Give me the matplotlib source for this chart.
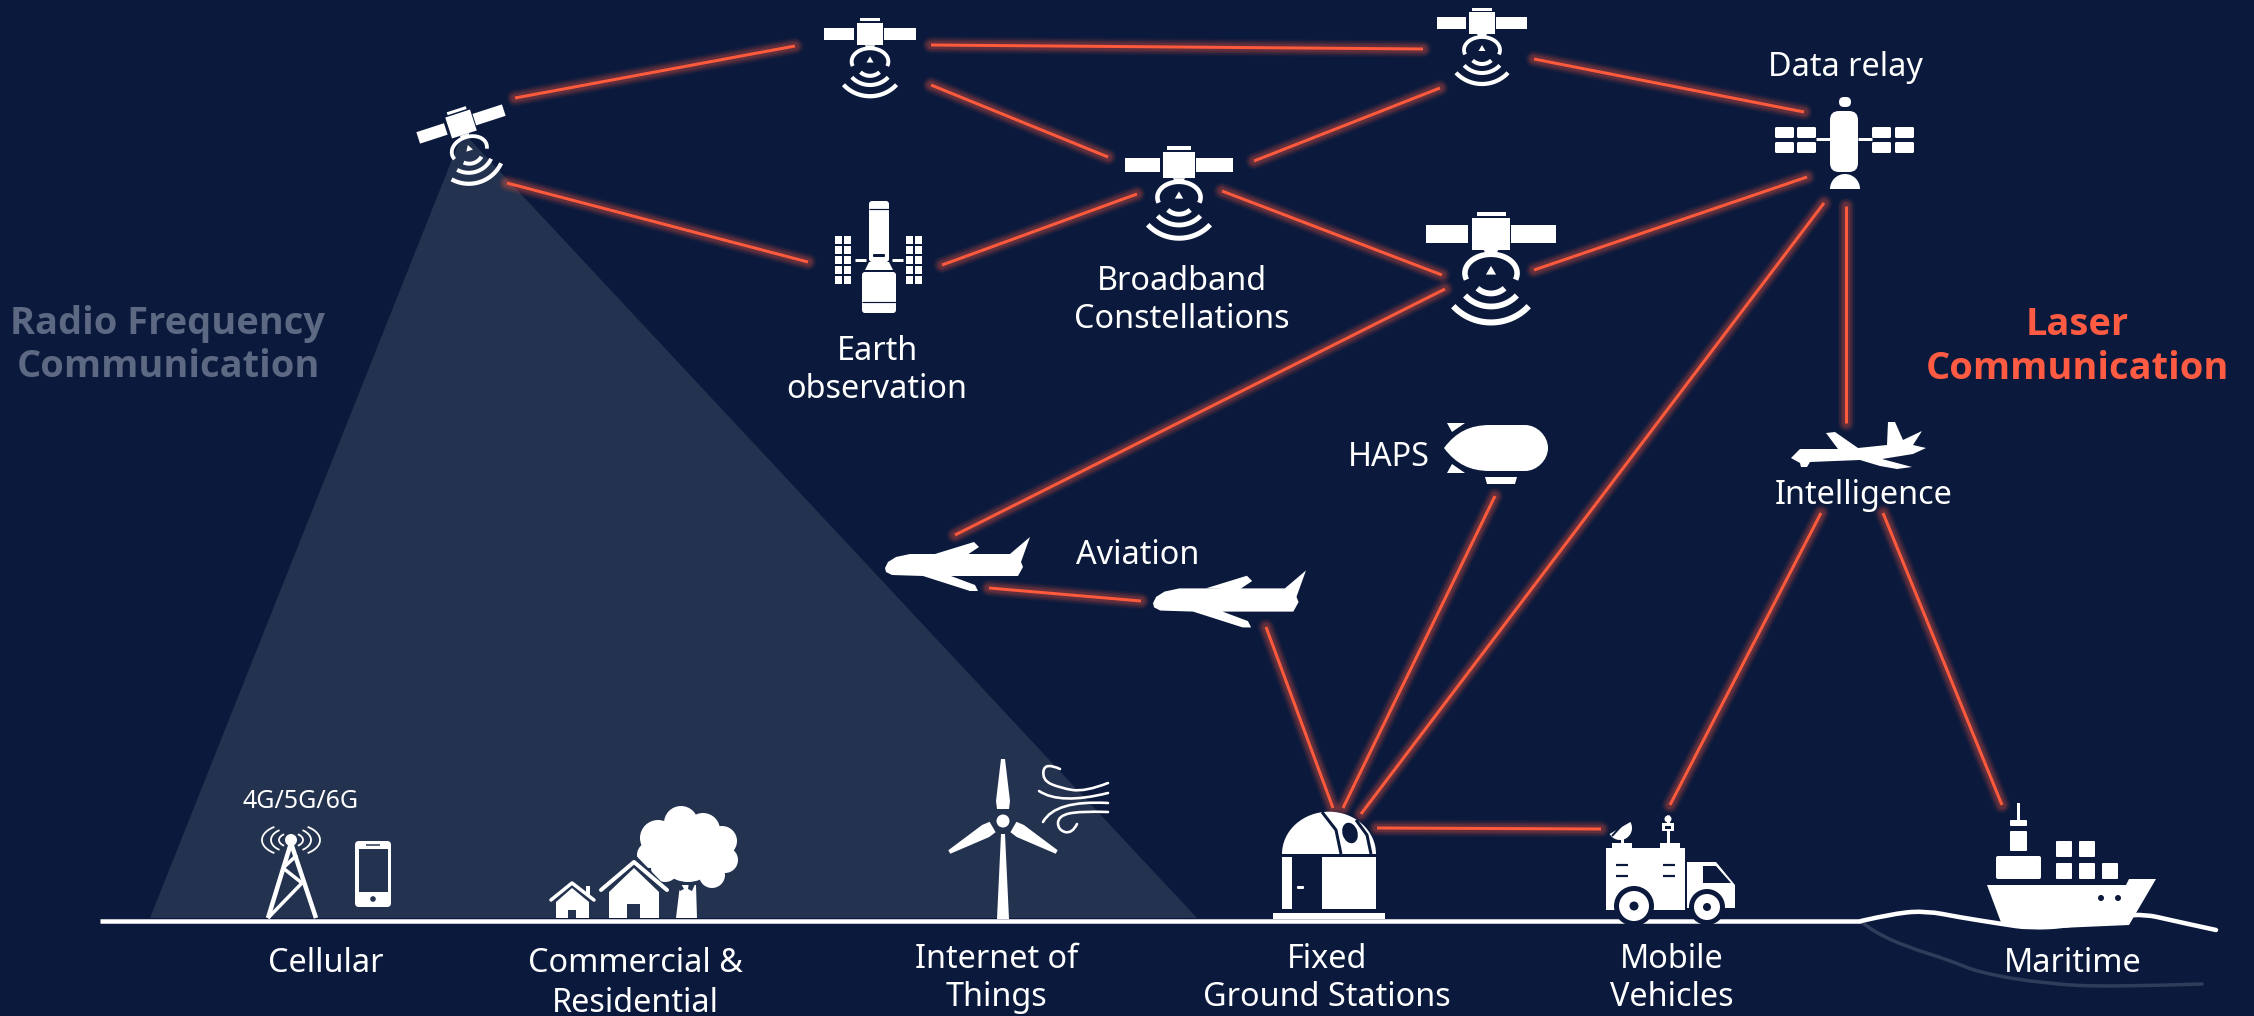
import numpy as np
import matplotlib
matplotlib.use('Agg')
import matplotlib.pyplot as plt
from matplotlib.patches import Polygon, Circle, Ellipse, Rectangle, FancyBboxPatch, PathPatch, Wedge
from matplotlib.path import Path
from matplotlib.transforms import Affine2D

plt.rcParams['font.family'] = ['Noto Sans', 'DejaVu Sans']

BG = '#0b1a3c'
BEAM = '#23324f'
WHITE = '#ffffff'
LASER = '#ff5a3c'
RF_GREY = '#5d6882'
SHADOW = '#2e3d5a'

# laser links, x0 y0 x1 y1 in image pixels
link_x0 = [515, 507, 931, 931, 942, 1254, 1222, 1534, 1534, 1445, 1824, 1846, 1495, 989, 1266, 1377, 1821, 1883]
link_y0 = [98, 183, 45, 85, 265, 161, 191, 59, 270, 289, 203, 206, 496, 588, 627, 828, 513, 513]
link_x1 = [795, 808, 1423, 1108, 1137, 1440, 1442, 1804, 1807, 955, 1361, 1846, 1343, 1141, 1333, 1601, 1670, 2002]
link_y1 = [46, 262, 49, 157, 194, 88, 275, 112, 177, 535, 814, 423, 808, 601, 808, 829, 805, 805]

# satellites: x, y, scale, tilt
sat_x = [461, 870, 1482, 1179, 1491]
sat_y = [124, 34, 23, 165, 234]
sat_scale = [1.0, 1.02, 1.0, 1.2, 1.45]
sat_tilt = [-18, 0, 0, 0, 0]

labels = ['Data relay', 'Broadband', 'Constellations', 'Earth', 'observation', 'HAPS', 'Aviation',
          'Intelligence', 'Cellular', 'Commercial &', 'Residential', 'Internet of', 'Things',
          'Fixed', 'Ground Stations', 'Mobile', 'Vehicles', 'Maritime']
label_x = [1845, 1182, 1182, 877, 877, 1389, 1138, 1864, 326, 635, 635, 997, 997, 1327, 1327, 1672, 1672, 2073]
label_y = [68, 282, 319, 352, 390, 457, 556, 495, 964, 964, 1003, 960, 998, 959, 998, 959, 998, 964]

fig = plt.figure(figsize=(22.54, 10.16), dpi=100, facecolor=BG)
ax = fig.add_axes([0, 0, 1, 1])
ax.set_xlim(0, 2254)
ax.set_ylim(1016, 0)
ax.axis('off')


def px(w):
    return w * 0.72


def poly(pts, color=WHITE, z=5, tr=None):
    ax.add_patch(Polygon(pts, closed=True, fc=color, ec='none', zorder=z, transform=tr or ax.transData))


def rect(x0, y0, x1, y1, color=WHITE, z=5, tr=None, r=0):
    if r > 0:
        ax.add_patch(FancyBboxPatch((x0 + r, y0 + r), x1 - x0 - 2 * r, y1 - y0 - 2 * r,
                                    boxstyle='round,pad=%g' % r, fc=color, ec='none', zorder=z,
                                    transform=tr or ax.transData))
    else:
        ax.add_patch(Rectangle((x0, y0), x1 - x0, y1 - y0, fc=color, ec='none', zorder=z,
                               transform=tr or ax.transData))


def line(pts, w, color=WHITE, z=5, tr=None, cap='butt'):
    pts = np.array(pts)
    ax.plot(pts[:, 0], pts[:, 1], color=color, lw=px(w), zorder=z, transform=tr or ax.transData,
            solid_capstyle=cap, solid_joinstyle='round')


def arc(cx, cy, rx, ry, t0, t1, w, color=WHITE, z=5, tr=None):
    t = np.radians(np.linspace(t0, t1, 40))
    line(np.column_stack([cx + rx * np.cos(t), cy + ry * np.sin(t)]), w, color, z, tr)


def smooth(pts, w, color=WHITE, z=5):
    # quadratic curve through the midpoints of the given points
    verts = [pts[0]]
    codes = [Path.MOVETO]
    for i in range(1, len(pts) - 1):
        mid = ((pts[i][0] + pts[i + 1][0]) / 2, (pts[i][1] + pts[i + 1][1]) / 2)
        verts += [pts[i], mid if i < len(pts) - 2 else pts[i + 1]]
        codes += [Path.CURVE3, Path.CURVE3]
    ax.add_patch(PathPatch(Path(verts, codes), fc='none', ec=color, lw=px(w), zorder=z, capstyle='round'))


def satellite(x, y, s, tilt):
    tr = Affine2D().scale(s).rotate_deg(tilt).translate(x, y) + ax.transData
    rect(-45, -6, -16, 6, tr=tr)
    rect(14, -6, 45, 6, tr=tr)
    rect(-13, -11, 13, 11, tr=tr)
    rect(-10, -15.5, 10, -12.5, tr=tr)
    poly([(-5, 11), (5, 11), (3, 15), (-3, 15)], tr=tr)
    arc(0, 27, 18, 13, 160, 380, 3.8 * s, tr=tr)
    poly([(0, 22), (-3.5, 28), (3.5, 28)], tr=tr)
    arc(0, 27, 14, 14, 48, 132, 4 * s, tr=tr)
    arc(0, 27, 24, 23, 42, 138, 4 * s, tr=tr)
    arc(0, 27, 35, 34, 42, 138, 4.2 * s, tr=tr)


# radio beam and ground line
poly([(463, 132), (150, 918), (1197, 918)], BEAM, z=1)
line([(100, 921), (1861, 921)], 4.5, z=4)
smooth([(1861, 921), (1896, 913), (1927, 911), (1958, 917), (2002, 924), (2029, 928), (2070, 926),
        (2135, 912), (2179, 922), (2216, 930)], 4.5, z=4)
smooth([(1863, 923), (1874, 932), (1907, 947), (1949, 960), (1980, 973), (2047, 984), (2113, 987),
        (2202, 984)], 3.5, SHADOW, z=2)

# laser links with a soft glow around them
for x0, y0, x1, y1 in zip(link_x0, link_y0, link_x1, link_y1):
    for w, a in [(17, 0.06), (14, 0.09), (11, 0.12), (8, 0.15)]:
        ax.plot([x0, x1], [y0, y1], color=LASER, lw=px(w), alpha=a, zorder=3, solid_capstyle='round')
    ax.plot([x0, x1], [y0, y1], color=LASER, lw=px(3), zorder=3.5, solid_capstyle='butt')

for x, y, s, t in zip(sat_x, sat_y, sat_scale, sat_tilt):
    satellite(x, y, s, t)

# earth observation telescope
rect(869, 201, 889, 262, r=3)
line([(869, 209), (889, 209)], 1.2, BG, z=6)
rect(873, 254, 885, 257, BG, z=6, r=1)
poly([(869, 262), (889, 262), (893, 270), (865, 270)])
rect(862, 272, 896, 313, r=3)
line([(862, 302), (896, 302)], 1.2, BG, z=6)
line([(855, 260), (866, 260)], 3)
line([(892, 260), (903, 260)], 3)
for px0 in [835, 844, 906, 915]:
    for py0 in [236, 246, 256, 266, 276]:
        rect(px0, py0, px0 + 7, py0 + 8)

# data relay station
rect(1830, 111, 1858, 172, r=9)
rect(1839, 97, 1851, 107, r=5)
ax.add_patch(Wedge((1845, 189), 15, 180, 360, fc=WHITE, ec='none', zorder=5))
line([(1816, 139), (1830, 139)], 3)
line([(1858, 139), (1872, 139)], 3)
for bx in [1775, 1797, 1872, 1895]:
    rect(bx, 127, bx + 19, 138, r=1.5)
    rect(bx, 142, bx + 19, 153, r=1.5)

# HAPS airship
haps = Path([(1444, 448), (1456, 432), (1470, 425), (1490, 425), (1525, 425), (1537, 425), (1548, 436),
             (1548, 448), (1548, 460), (1537, 471), (1525, 471), (1490, 471), (1470, 471), (1456, 464), (1444, 448)],
            [Path.MOVETO, Path.CURVE4, Path.CURVE4, Path.CURVE4, Path.LINETO, Path.CURVE4, Path.CURVE4, Path.CURVE4,
             Path.CURVE4, Path.CURVE4, Path.CURVE4, Path.LINETO, Path.CURVE4, Path.CURVE4, Path.CURVE4])
ax.add_patch(PathPatch(haps, fc=WHITE, ec='none', zorder=5))
poly([(1447, 423), (1465, 423), (1452, 432)])
poly([(1447, 473), (1465, 473), (1452, 464)])
poly([(1485, 477), (1517, 477), (1515, 484), (1487, 484)])

# airliners
for ox, oy, s in [(885, 565, 1.0), (1153, 600, 1.055)]:
    tr = Affine2D().scale(s).translate(ox, oy) + ax.transData
    poly([(0, 3), (3, -3), (11, -8), (25, -11), (125, -11), (145, -28), (136, -3), (138, 2), (133, 11), (66, 11),
          (90, 20), (93, 26), (85, 26), (38, 11), (7, 10), (1, 7)], tr=tr)
    poly([(50, -11), (89, -23), (94, -18), (82, -10)], tr=tr)

# drone
poly([(1791, 458), (1800, 449), (1838, 449), (1826, 433), (1835, 432), (1858, 448), (1887, 445), (1888, 422),
      (1895, 422), (1903, 440), (1922, 431), (1913, 445), (1926, 448), (1913, 454), (1882, 459), (1912, 467),
      (1897, 469), (1880, 466), (1860, 460), (1810, 462), (1807, 467), (1801, 467), (1800, 463)])

# cell tower and phone
ax.add_patch(Circle((291, 840), 6, fc=WHITE, ec='none', zorder=5))
line([(268, 918), (291, 843), (316, 918)], 4.5)
line([(268, 918), (302, 883)], 3.5)
line([(302, 883), (283, 868)], 3.5)
line([(283, 868), (297, 855)], 3.5)
for rx, ry in [(12, 7), (20, 12), (29, 16)]:
    arc(291, 840, rx, ry, 125, 235, 1.8)
    arc(291, 840, rx, ry, -55, 55, 1.8)
rect(355, 841, 391, 907, r=4)
rect(359, 849, 388, 892, BEAM, z=6)
line([(366, 845), (380, 845)], 1.5, BEAM, z=6)
ax.add_patch(Circle((373, 899), 2.8, fc=BEAM, ec='none', zorder=6))

# houses and tree
for cx, cy, r in [(688, 850, 32), (681, 823, 17), (703, 830, 17), (722, 841, 15), (725, 860, 13), (712, 875, 13),
                  (658, 838, 18), (650, 855, 13), (665, 868, 14)]:
    ax.add_patch(Circle((cx, cy), r, fc=WHITE, ec='none', zorder=5))
poly([(676, 918), (680, 885), (696, 885), (697, 918)])
poly([(674, 882), (680, 882), (684, 889), (680, 891)], BEAM, z=6)
poly([(689, 882), (696, 882), (692, 891), (688, 889)], BEAM, z=6)
line([(596, 896), (634, 860), (669, 896)], 9, BEAM, z=6)
poly([(634, 868), (659, 892), (659, 918), (609, 918), (609, 892)], z=6.1)
line([(601, 890), (634, 862), (667, 890)], 4, z=6.1, cap='round')
rect(627, 904, 640, 918, BEAM, z=6.2)
poly([(572, 888), (589, 902), (589, 918), (556, 918), (556, 902)])
line([(551, 900), (572, 883), (594, 900)], 3.5, cap='round')
rect(586, 886, 590, 895)
rect(568, 910, 576, 918, BEAM, z=6)

# wind turbine
poly([(997, 919), (1001, 834), (1005, 834), (1009, 919)])
ax.add_patch(Circle((1003, 821), 6.5, fc=WHITE, ec='none', zorder=5))
for ang in [0, 120, 240]:
    tr = Affine2D().rotate_deg(ang).translate(1003, 821) + ax.transData
    poly([(-6, -12), (6, -12), (7, -20), (2, -62), (-2, -62), (-7, -20)], tr=tr)
for crv in [[(1060, 769), (1045, 762), (1042, 780), (1060, 788), (1085, 792), (1108, 783)],
            [(1039, 791), (1060, 805), (1108, 793)],
            [(1043, 822), (1055, 800), (1108, 803)],
            [(1108, 812), (1080, 811), (1058, 816), (1058, 830), (1072, 834), (1077, 824)]]:
    smooth(crv, 2.6)

# ground station dome
rect(1273, 913, 1385, 919)
rect(1282, 857, 1292, 909)
rect(1322, 857, 1376, 909)
rect(1297, 886, 1304, 889, r=1)
ax.add_patch(Wedge((1329, 854), 47, 180, 360, fc=WHITE, ec='none', zorder=5, transform=Affine2D().scale(1, 0.9).translate(0, 85.4) + ax.transData))
line([(1322, 812), (1336, 830), (1341, 854)], 3, BG, z=6)
line([(1356, 820), (1367, 835), (1371, 854)], 3, BG, z=6)
ax.add_patch(Ellipse((1350, 833), 15, 21, angle=-18, fc=BG, ec='none', zorder=6))

# truck
rect(1606, 848, 1685, 895)
rect(1606, 895, 1685, 910)
poly([(1687, 862), (1716, 862), (1735, 885), (1735, 908), (1687, 908)])
poly([(1703, 866), (1716, 866), (1731, 883), (1703, 883)], BG, z=6)
ax.add_patch(Circle((1634, 906), 20, fc=BG, ec='none', zorder=6))
ax.add_patch(Circle((1634, 906), 15, fc=WHITE, ec='none', zorder=6.1))
ax.add_patch(Circle((1634, 906), 4.5, fc=BG, ec='none', zorder=6.2))
ax.add_patch(Circle((1707, 907), 18, fc=BG, ec='none', zorder=6))
ax.add_patch(Circle((1707, 907), 13, fc=WHITE, ec='none', zorder=6.1))
ax.add_patch(Circle((1707, 907), 4, fc=BG, ec='none', zorder=6.2))
for ly in [865, 876]:
    line([(1616, ly), (1628, ly)], 2.2, BG, z=6)
    line([(1663, ly), (1675, ly)], 2.2, BG, z=6)
rect(1612, 843, 1632, 849)
rect(1660, 843, 1680, 849)
line([(1622, 843), (1622, 832)], 3)
ax.add_patch(Wedge((1620, 828), 12, -30, 150, fc=WHITE, ec='none', zorder=5))
line([(1612, 836), (1625, 822)], 2, BG, z=6)
line([(1668, 843), (1668, 815)], 3)
rect(1662, 823, 1674, 831)
rect(1665, 826, 1671, 829, BG, z=6)
ax.add_patch(Circle((1668, 819), 3.5, fc=WHITE, ec='none', zorder=5))

# ship
poly([(1987, 885), (2126, 885), (2129, 879), (2156, 879), (2129, 925), (2060, 928), (2002, 925)], z=5)
rect(1996, 856, 2041, 879, r=2)
rect(2010, 831, 2027, 851, r=1)
rect(2010, 820, 2027, 826, r=1)
rect(2017, 803, 2020, 820)
for cx0 in [2056, 2079, 2102]:
    rect(cx0, 863, cx0 + 16, 879, r=1)
for cx0 in [2056, 2079]:
    rect(cx0, 841, cx0 + 16, 857, r=1)
for wx in [2101, 2118]:
    ax.add_patch(Circle((wx, 898), 3, fc=BG, ec='none', zorder=6))

for t, x, y in zip(labels, label_x, label_y):
    ax.text(x, y, t, color=WHITE, fontsize=23.3, ha='center', va='center', zorder=7)
ax.text(301, 801, '4G/5G/6G', color=WHITE, fontsize=18, ha='center', va='center', zorder=7)

bold = dict(family='Open Sans', fontweight='bold', fontsize=27.4, ha='center', va='center', zorder=7)
ax.text(168, 324, 'Radio Frequency', color=RF_GREY, **bold)
ax.text(168, 367, 'Communication', color=RF_GREY, **bold)
ax.text(2077, 325, 'Laser', color='#ff5a42', **bold)
ax.text(2077, 369, 'Communication', color='#ff5a42', **bold)

fig.savefig('out.png', dpi=100, facecolor=BG)
